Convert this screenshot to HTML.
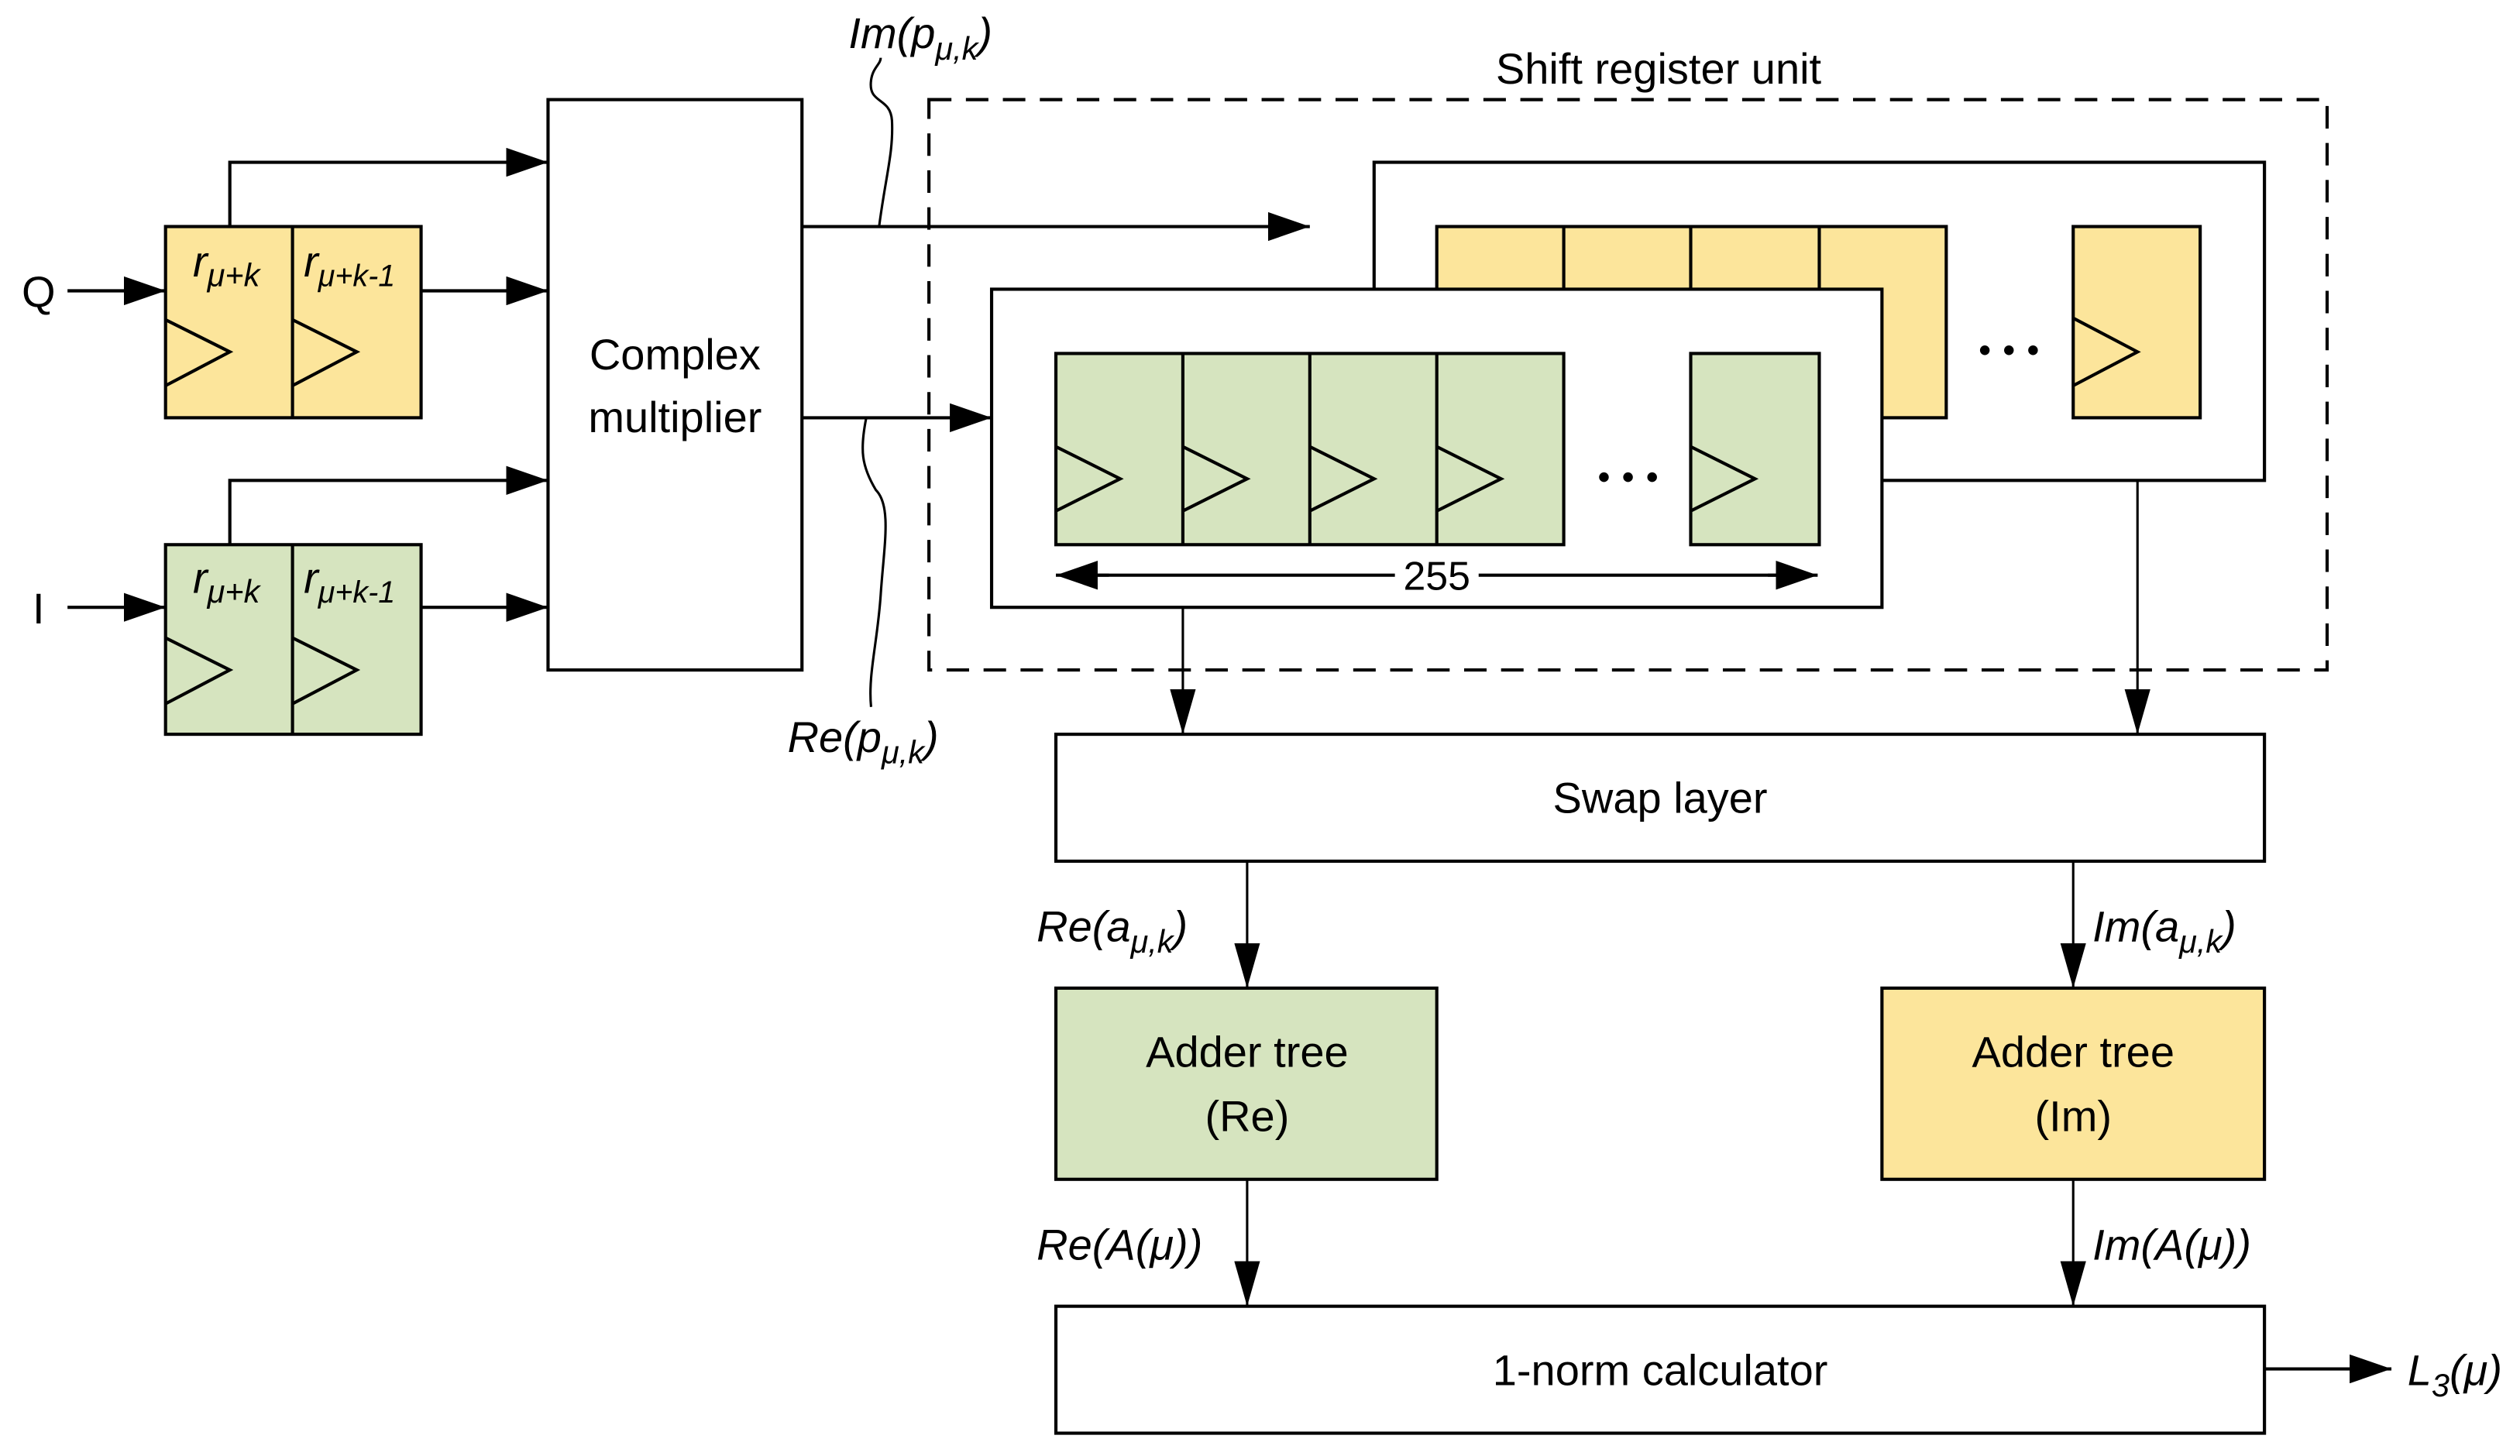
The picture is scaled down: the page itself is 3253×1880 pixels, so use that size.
<!DOCTYPE html>
<html><head><meta charset="utf-8"><style>
html,body{margin:0;padding:0;background:#fff}
svg{display:block}
text{font-family:"Liberation Sans Narrow","Liberation Sans",sans-serif;fill:#000}
</style></head><body>
<svg width="3253" height="1880" viewBox="0 0 1568 906.2" xmlns="http://www.w3.org/2000/svg">
<defs>
<marker id="b" viewBox="0 0 10 10" refX="10" refY="5" markerWidth="28" markerHeight="16" markerUnits="userSpaceOnUse" orient="auto" preserveAspectRatio="none"><path d="M0,0L10,5L0,10z" fill="#000"/></marker>
<marker id="c" viewBox="0 0 10 10" refX="10" refY="5" markerWidth="26" markerHeight="18" markerUnits="userSpaceOnUse" orient="auto" preserveAspectRatio="none"><path d="M0,0L10,5L0,10z" fill="#000"/></marker>
</defs>
<g stroke="#000" stroke-width="2" fill="none">
<rect x="103" y="141" width="159" height="119" fill="#FCE59B"/>
<line x1="182" y1="141" x2="182" y2="260"/>
<path d="M103,199L143,219L103,240M182,199L222,219L182,240"/>
<rect x="103" y="339" width="159" height="118" fill="#D6E4BF"/>
<line x1="182" y1="339" x2="182" y2="457"/>
<path d="M103,397L143,417L103,438M182,397L222,417L182,438"/>
<line x1="42" y1="181" x2="103" y2="181" marker-end="url(#c)"/>
<line x1="42" y1="378" x2="103" y2="378" marker-end="url(#c)"/>
<path d="M143,141V101H341" marker-end="url(#c)"/>
<line x1="262" y1="181" x2="341" y2="181" marker-end="url(#c)"/>
<path d="M143,339V299H341" marker-end="url(#c)"/>
<line x1="262" y1="378" x2="341" y2="378" marker-end="url(#c)"/>
<rect x="341" y="62" width="158" height="355" fill="#fff"/>
<line x1="499" y1="141" x2="815" y2="141" marker-end="url(#c)"/>
<line x1="499" y1="260" x2="617" y2="260" marker-end="url(#c)"/>
<rect x="578" y="62" width="870" height="355" stroke-dasharray="14,9"/>
<rect x="855" y="101" width="554" height="198" fill="#fff"/>
<rect x="894" y="141" width="317" height="119" fill="#FCE59B"/>
<path d="M973,141V260M1052,141V260M1132,141V260"/>
<rect x="1290" y="141" width="79" height="119" fill="#FCE59B"/>
<path d="M1290,198L1330,219L1290,240"/>
<rect x="617" y="180" width="554" height="198" fill="#fff"/>
<rect x="657" y="220" width="316" height="119" fill="#D6E4BF"/>
<path d="M736,220V339M815,220V339M894,220V339"/>
<rect x="1052" y="220" width="80" height="119" fill="#D6E4BF"/>
<path d="M657,278L697,298L657,318M736,278L776,298L736,318M815,278L855,298L815,318M894,278L934,298L894,318M1052,278L1092,298L1052,318"/>
<line x1="680" y1="358" x2="868" y2="358"/>
<line x1="920" y1="358" x2="1108" y2="358"/>
<line x1="690" y1="358" x2="657" y2="358" marker-end="url(#c)"/>
<line x1="1100" y1="358" x2="1131" y2="358" marker-end="url(#c)"/>
<line x1="736" y1="378" x2="736" y2="457" stroke-width="1.5" marker-end="url(#b)"/>
<line x1="1330" y1="299" x2="1330" y2="457" stroke-width="1.5" marker-end="url(#b)"/>
<rect x="657" y="457" width="752" height="79" fill="#fff"/>
<line x1="776" y1="536" x2="776" y2="615" stroke-width="1.5" marker-end="url(#b)"/>
<line x1="1290" y1="536" x2="1290" y2="615" stroke-width="1.5" marker-end="url(#b)"/>
<rect x="657" y="615" width="237" height="119" fill="#D6E4BF"/>
<rect x="1171" y="615" width="238" height="119" fill="#FCE59B"/>
<line x1="776" y1="734" x2="776" y2="813" stroke-width="1.5" marker-end="url(#b)"/>
<line x1="1290" y1="734" x2="1290" y2="813" stroke-width="1.5" marker-end="url(#b)"/>
<rect x="657" y="813" width="752" height="79" fill="#fff"/>
<line x1="1409" y1="852" x2="1488" y2="852" marker-end="url(#c)"/>
<path d="M547,141C551,110 556,95 555,75C554,60 540,65 542,50C543,42 548,40 548,36" stroke-width="1.5"/>
<path d="M539,260C535,280 536,290 545,305C555,315 550,340 548,370C546,400 540,420 542,440" stroke-width="1.5"/>
</g>
<g fill="#000">
<circle cx="1235" cy="218" r="3"/><circle cx="1250" cy="218" r="3"/><circle cx="1265" cy="218" r="3"/>
<circle cx="998" cy="297" r="3"/><circle cx="1013" cy="297" r="3"/><circle cx="1028" cy="297" r="3"/>
</g>
<rect x="868" y="345" width="52" height="26" fill="#fff"/>
<text x="894" y="367" font-size="25" text-anchor="middle">255</text>
<g font-size="27">
<text x="24" y="191" text-anchor="middle">Q</text>
<text x="24" y="388" text-anchor="middle">I</text>
<text x="420" y="230" text-anchor="middle">Complex</text>
<text x="420" y="269" text-anchor="middle">multiplier</text>
<text x="1032" y="52" text-anchor="middle">Shift register unit</text>
<text x="1033" y="506" text-anchor="middle">Swap layer</text>
<text x="776" y="664" text-anchor="middle">Adder tree</text>
<text x="776" y="704" text-anchor="middle">(Re)</text>
<text x="1290" y="664" text-anchor="middle">Adder tree</text>
<text x="1290" y="704" text-anchor="middle">(Im)</text>
<text x="1033" y="862" text-anchor="middle">1-norm calculator</text>
</g>
<g font-size="27" font-style="italic">
<text x="120" y="172">r<tspan font-size="20" dy="6">μ+k</tspan></text>
<text x="189" y="172">r<tspan font-size="19" dy="6">μ+k-1</tspan></text>
<text x="120" y="369">r<tspan font-size="20" dy="6">μ+k</tspan></text>
<text x="189" y="369">r<tspan font-size="19" dy="6">μ+k-1</tspan></text>
<text x="528" y="30">Im(p<tspan font-size="20" dy="7">μ,k</tspan><tspan dy="-7">)</tspan></text>
<text x="490" y="468">Re(p<tspan font-size="20" dy="7">μ,k</tspan><tspan dy="-7">)</tspan></text>
<text x="645" y="586">Re(a<tspan font-size="20" dy="7">μ,k</tspan><tspan dy="-7">)</tspan></text>
<text x="1302" y="586">Im(a<tspan font-size="20" dy="7">μ,k</tspan><tspan dy="-7">)</tspan></text>
<text x="645" y="784">Re(A(μ))</text>
<text x="1302" y="784">Im(A(μ))</text>
<text x="1498" y="862">L<tspan font-size="20" dy="7">3</tspan><tspan dy="-7">(μ)</tspan></text>
</g>
</svg>
</body></html>
